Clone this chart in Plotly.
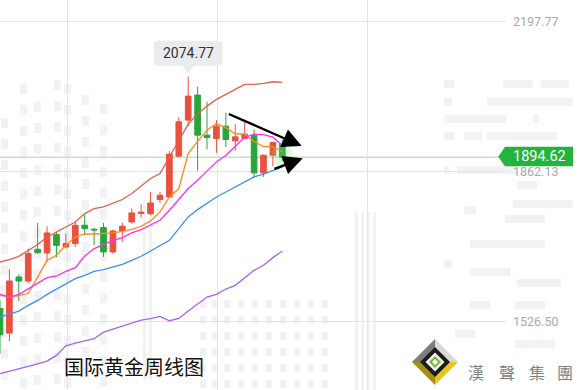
import plotly.graph_objects as go

# ---------------- data ----------------
weeks = list(range(31))
opens = [1556, 1501, 1626.5, 1617.5, 1688.5, 1680.2, 1721.3, 1693.7, 1701.2, 1742.2,
         1733.3, 1737, 1682.5, 1729.5, 1749.7, 1768.8, 1768.1, 1799.7, 1805.7, 1896.8,
         1977.5, 2033.5, 1943.9, 1936.4, 1964, 1931.2, 1936.4, 1943.9, 1859.5, 1899, 1923.7]
highs = [1575, 1644, 1632.4, 1690, 1747.5, 1740, 1727.3, 1723.6, 1749.7, 1766.9,
         1737, 1747.5, 1732.5, 1747.5, 1779.6, 1789.3, 1816.9, 1816.9, 1908, 1983.4,
         2074.77, 2052.2, 2018.5, 1977.5, 1993.9, 1968.5, 1973.7, 1956.6, 1900.5, 1929, 1934.2]
lows = [1455, 1483, 1572.7, 1611.5, 1678.8, 1660.1, 1671.3, 1690, 1693.7, 1719.8,
        1697.4, 1671.3, 1678.8, 1704.9, 1746, 1759.4, 1765, 1792.3, 1804.2, 1895.3,
        1964, 1864, 1912.5, 1904.3, 1917.7, 1908.8, 1934.9, 1849, 1850.5, 1874.4, 1886.4]
closes = [1497, 1617.5, 1617.5, 1678.8, 1681, 1725, 1697.4, 1701.2, 1742.2, 1734.8,
          1731.8, 1682.5, 1729.5, 1740, 1769.9, 1771.5, 1792, 1809.4, 1901.3, 1973.7,
          2031.2, 1943.9, 1938.6, 1964, 1934.2, 1940.1, 1946.1, 1859.5, 1899, 1927.4, 1894.62]

upper_band = [1660, 1665.3, 1672.8, 1686.3, 1699, 1716, 1727.2, 1737, 1749.6, 1768.4,
              1779.6, 1783.2, 1790.8, 1799.8, 1813.2, 1829.6, 1846.8, 1858, 1894, 1932.6,
              1968.5, 1991, 2008.8, 2023.8, 2035.7, 2046.3, 2057.5, 2057.5, 2059.7, 2063.3, 2062]
ma_orange = [1585.4, 1581.6, 1585, 1590, 1626, 1663.8, 1675, 1697.4, 1716, 1722.7,
             1722.7, 1723.6, 1725, 1728.7, 1733.2, 1740, 1752, 1772, 1805.6, 1824.4,
             1902.8, 1930, 1955, 1970, 1960, 1947, 1946, 1929.6, 1918.5, 1918, 1906.8]
ma_magenta = [1588, 1581.6, 1587.6, 1600, 1612.9, 1625, 1628.7, 1639.2, 1647.4, 1673.5,
              1690, 1699.6, 1708.6, 1714.6, 1725, 1732.5, 1742.2, 1753.4, 1775.8, 1799.8,
              1824.4, 1843, 1863.2, 1884, 1899, 1920, 1939, 1946, 1945, 1939.4, 1921.5]
ma_blue = [1536.7, 1542.8, 1550.2, 1562.9, 1574, 1587.6, 1598.8, 1611.5, 1622.8, 1630.2,
           1639.2, 1642.9, 1648.8, 1654.8, 1663.8, 1672.8, 1684.6, 1695.8, 1708.6, 1734.7,
           1760.8, 1777.3, 1792, 1805.6, 1816.7, 1828, 1839.2, 1850.5, 1856.5, 1863.9, 1872.9]
ma_purple = [1410, 1415.1, 1420.3, 1426.3, 1432.3, 1438.2, 1451, 1472.6, 1478.5, 1483,
             1488.3, 1503, 1509.9, 1515.2, 1523.3, 1530, 1533.1, 1538.3, 1528.6, 1533.8,
             1550.2, 1566.8, 1581.6, 1587.6, 1599.5, 1607.8, 1625, 1641.4, 1652.6, 1669.8, 1684.6]

y_ticks = [1526.50, 1862.13, 2197.77]
y_tick_labels = ["1526.50", "1862.13", "2197.77"]
x_grid = [7.15, 23.09, 39.03]

arrow_upper = [(24.15, 1992.7), (32.06, 1919.6)]
arrow_lower = [(29.0, 1867.4), (32.17, 1892.0)]

last_label = "1894.62"
title_text = "国际黄金周线图"
brand_chars = ["漢", "聲", "集", "團"]

# ---------------- layout constants ----------------
W, H = 577, 390
PW = 506
XR = [0, 53.77]
YR = [1373.61, 2246.26]
RED = "#e9513f"
GREEN = "#2aa53a"

def px_x(v):
    return (v - XR[0]) / (XR[1] - XR[0]) * PW

def px_y(v):
    return (YR[1] - v) / (YR[1] - YR[0]) * H

def fx(p):
    return p / PW

def fy(p):
    return 1 - p / H

def poly(points):
    return "M " + " L ".join(f"{fx(a):.5f},{fy(b):.5f}" for a, b in points) + " Z"

shapes = []
annotations = []

# faint background "building" watermark
WM = "#f2f2f5"
def wrect(x0, y0, w, h):
    shapes.append(dict(type="rect", xref="paper", yref="paper", x0=fx(x0), x1=fx(x0 + w),
                       y0=fy(y0 + h), y1=fy(y0), fillcolor=WM, line=dict(width=0), layer="below"))

# left building (windows)
for col, (x0, ytop) in enumerate([(1, 118), (20, 84), (34, 102), (54, 80), (64, 84), (82, 95), (100, 104)]):
    y = ytop
    while y < 385:
        wrect(x0, y, 7, 10)
        y += 21
# middle-bottom building
for x0 in [200, 212, 224, 238, 252, 266, 280, 294, 308, 322]:
    y = 300
    while y < 390:
        wrect(x0, y, 6, 8)
        y += 16
# tall thin columns in the middle
for x0 in [143, 149, 355, 361, 367, 373]:
    wrect(x0, 200 if x0 < 200 else 212, 3, 180)
# right side bars
for (x0, y0, w) in [(444, 80, 10), (503, 80, 30), (541, 80, 28), (444, 98, 8), (487, 98, 12),
                    (496, 98, 77), (444, 115, 62), (533, 115, 6), (444, 132, 10), (464, 132, 18),
                    (487, 132, 70), (444, 166, 5), (457, 166, 60), (517, 181, 20), (513, 200, 60),
                    (464, 206, 12), (505, 215, 40), (470, 240, 75), (444, 260, 8), (471, 268, 40),
                    (517, 279, 44), (470, 301, 20), (515, 301, 30), (455, 330, 20), (515, 340, 40)]:
    wrect(x0, y0, w, 8)

fig = go.Figure()

fig.add_trace(go.Candlestick(
    x=weeks, open=opens, high=highs, low=lows, close=closes,
    increasing=dict(line=dict(color=RED, width=1), fillcolor=RED),
    decreasing=dict(line=dict(color=GREEN, width=1), fillcolor=GREEN),
    whiskerwidth=0, hoverinfo="skip", showlegend=False))

for vals, col in [(upper_band, "#e2604a"), (ma_orange, "#ff8a1c"), (ma_magenta, "#ff2df5"),
                  (ma_blue, "#3a8ef8"), (ma_purple, "#a960f7")]:
    fig.add_trace(go.Scatter(x=weeks, y=vals, mode="lines", line=dict(color=col, width=1.3),
                             hoverinfo="skip", showlegend=False))

# glow on the last candle
fig.add_trace(go.Scatter(x=[weeks[-1]], y=[closes[-1] + 4], mode="markers",
                         marker=dict(size=22, color="rgba(120,230,120,0.22)"),
                         hoverinfo="skip", showlegend=False))

# last price line
shapes.append(dict(type="line", xref="paper", yref="y", x0=0, x1=1, y0=closes[-1], y1=closes[-1],
                   line=dict(color="#9fd9a3", width=1), layer="below"))

# price tag
ty = px_y(closes[-1])
shapes.append(dict(type="path", xref="paper", yref="paper",
                   path=poly([(498.3, ty - 0.5), (505, ty - 10.5), (573, ty - 10.5), (573, ty + 9),
                              (505, ty + 9)]),
                   fillcolor="#24b43c", line=dict(width=0)))
annotations.append(dict(xref="paper", yref="paper", x=fx(539), y=fy(ty - 1), text=last_label,
                        xanchor="center", yanchor="middle", height=15, borderpad=0,
                        showarrow=False, font=dict(color="white", size=14.5, family="Roboto")))

# peak tooltip
pk = highs.index(max(highs))
pxp, pyp = px_x(weeks[pk]), px_y(highs[pk])
bx0, bx1, by0, by1, r = pxp - 34.4, pxp + 34.4, pyp - 36, pyp - 11, 4
path = (f"M {fx(bx0 + r)},{fy(by0)} L {fx(bx1 - r)},{fy(by0)} Q {fx(bx1)},{fy(by0)} {fx(bx1)},{fy(by0 + r)} "
        f"L {fx(bx1)},{fy(by1 - r)} Q {fx(bx1)},{fy(by1)} {fx(bx1 - r)},{fy(by1)} "
        f"L {fx(pxp + 6)},{fy(by1)} L {fx(pxp)},{fy(pyp - 3)} L {fx(pxp - 6)},{fy(by1)} "
        f"L {fx(bx0 + r)},{fy(by1)} Q {fx(bx0)},{fy(by1)} {fx(bx0)},{fy(by1 - r)} "
        f"L {fx(bx0)},{fy(by0 + r)} Q {fx(bx0)},{fy(by0)} {fx(bx0 + r)},{fy(by0)} Z")
shapes.append(dict(type="path", xref="paper", yref="paper", path=path,
                   fillcolor="#e9ecef", line=dict(width=0)))
annotations.append(dict(xref="paper", yref="paper", x=fx(pxp), y=fy((by0 + by1) / 2),
                        xanchor="center", yanchor="middle",
                        text=f"{highs[pk]:.2f}", showarrow=False,
                        font=dict(color="#333333", size=14, family="Roboto")))

# trend arrows
for (sx, sy), (ex, ey) in [arrow_upper, arrow_lower]:
    annotations.append(dict(x=ex, y=ey, ax=sx, ay=sy, xref="x", yref="y", axref="x", ayref="y",
                            text="", showarrow=True, arrowhead=2, arrowsize=1.6, arrowwidth=2.4,
                            arrowcolor="#000000"))

# title
annotations.append(dict(xref="paper", yref="paper", x=fx(62), y=fy(366.7), xanchor="left",
                        yanchor="middle", text=title_text, showarrow=False,
                        font=dict(color="#111111", size=20, family="Noto Sans CJK SC")))

# logo
cx, cy = 435, 362
h = 23
shapes += [
    dict(type="path", xref="paper", yref="paper", path=poly([(cx - h, cy), (cx, cy - h), (cx, cy)]),
         fillcolor="#7d7d7d", line=dict(width=0)),
    dict(type="path", xref="paper", yref="paper", path=poly([(cx, cy - h), (cx + h, cy), (cx, cy)]),
         fillcolor="#d9d9d9", line=dict(width=0)),
    dict(type="path", xref="paper", yref="paper", path=poly([(cx - h, cy), (cx, cy + h), (cx, cy)]),
         fillcolor="#a88f12", line=dict(width=0)),
    dict(type="path", xref="paper", yref="paper", path=poly([(cx + h, cy), (cx, cy + h), (cx, cy)]),
         fillcolor="#e6c51f", line=dict(width=0)),
]
for hh, col in [(15, "#1b1b1b"), (9.5, "#f4f4f4"), (6, "#7cb83a"), (3, "#ffffff")]:
    shapes.append(dict(type="path", xref="paper", yref="paper",
                       path=poly([(cx, cy - hh), (cx + hh, cy), (cx, cy + hh), (cx - hh, cy)]),
                       fillcolor=col, line=dict(width=0)))
for ch, xx in zip(brand_chars, [476, 506.7, 536.7, 565]):
    annotations.append(dict(xref="paper", yref="paper", x=fx(xx), y=fy(371.5), text=ch,
                            xanchor="center", yanchor="middle",
                            showarrow=False, font=dict(color="#808080", size=16,
                                                       family="Noto Sans CJK TC")))

fig.update_layout(
    width=W, height=H, margin=dict(l=0, r=W - PW, t=0, b=0),
    paper_bgcolor="white", plot_bgcolor="rgba(0,0,0,0)",
    hovermode=False, showlegend=False, boxgap=0.4, boxgroupgap=0,
    shapes=shapes, annotations=annotations,
    xaxis=dict(range=XR, rangeslider=dict(visible=False), tickvals=x_grid, showticklabels=False,
               showgrid=True, gridcolor="#e3e3e8", gridwidth=1, zeroline=False, showline=False,
               ticks=""),
    yaxis=dict(range=YR, side="right", tickvals=y_ticks, ticktext=y_tick_labels,
               showgrid=True, gridcolor="#e3e3e8", gridwidth=1, zeroline=False, showline=False,
               ticks="", ticklabelstandoff=6, automargin=False,
               tickfont=dict(color="#a6a8b5", size=12.5, family="Roboto")),
)

fig.write_html("out.html", config={"displayModeBar": False},
               post_script="document.body.style.margin='0';document.body.style.overflow='hidden';")
